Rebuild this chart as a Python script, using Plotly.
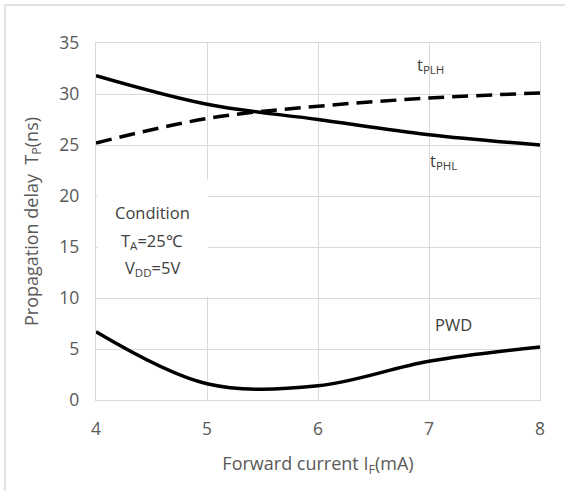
import plotly.graph_objects as go

# Data
forward_current = [4, 5, 6, 7, 8]
t_phl = [31.8, 29.0, 27.5, 26.0, 25.0]
t_plh = [25.2, 27.6, 28.8, 29.6, 30.1]
pwd = [6.7, 1.6, 1.4, 3.8, 5.2]

x_ticks = [4, 5, 6, 7, 8]
y_ticks = [0, 5, 10, 15, 20, 25, 30, 35]

FONT = "Open Sans"
GRID = "#d9d9d9"
TXT = "#595959"

fig = go.Figure()
fig.add_trace(go.Scatter(x=forward_current, y=t_phl, mode="lines", name="tPHL",
                         line=dict(color="black", width=3.5, shape="spline", smoothing=1)))
fig.add_trace(go.Scatter(x=forward_current, y=t_plh, mode="lines", name="tPLH",
                         line=dict(color="black", width=3.5, shape="spline", smoothing=1, dash="16px,8px")))
fig.add_trace(go.Scatter(x=forward_current, y=pwd, mode="lines", name="PWD",
                         line=dict(color="black", width=3.5, shape="spline", smoothing=1)))

W, H = 566, 492
L, R, T, B = 96, 26, 43, 92
pw, ph = W - L - R, H - T - B

def px_to_paper(px, py):
    return (px - L) / pw, (H - B - py) / ph

# outer chart border (left and top visible)
lx, ty = px_to_paper(5, 5)
_, by = px_to_paper(5, 491)
rx, _ = px_to_paper(565, 5)
fig.add_shape(type="line", xref="paper", yref="paper", x0=lx, x1=lx, y0=ty, y1=by,
              line=dict(color=GRID, width=1.5), layer="above")
fig.add_shape(type="line", xref="paper", yref="paper", x0=lx, x1=rx, y0=ty, y1=ty,
              line=dict(color=GRID, width=1.5), layer="above")

# condition box
fig.add_shape(type="rect", xref="x", yref="y", x0=4.012, x1=5.01, y0=10.1, y1=21.6,
              fillcolor="white", line=dict(width=0), layer="above")

ann_font = dict(family=FONT, size=16.5, color="#404040")
fig.add_annotation(x=4.505, y=18.4, text="Condition", showarrow=False, font=ann_font)
fig.add_annotation(x=4.505, y=15.6, text="T<sub>A</sub>=25℃", showarrow=False, font=ann_font)
fig.add_annotation(x=4.505, y=12.9, text="V<sub>DD</sub>=5V", showarrow=False, font=ann_font)

fig.add_annotation(x=6.87, y=32.8, text="t<sub>PLH</sub>", showarrow=False, xanchor="left", font=ann_font)
fig.add_annotation(x=6.99, y=23.4, text="t<sub>PHL</sub>", showarrow=False, xanchor="left", font=ann_font)
fig.add_annotation(x=7.04, y=7.4, text="PWD", showarrow=False, xanchor="left", font=ann_font)

fig.update_layout(
    width=W, height=H,
    margin=dict(l=L, r=R, t=T, b=B, autoexpand=False),
    paper_bgcolor="white", plot_bgcolor="white",
    showlegend=False,
    font=dict(family=FONT, size=17, color=TXT),
)
fig.update_xaxes(range=[4, 8], tickvals=x_ticks, ticktext=[str(v) for v in x_ticks],
                 showgrid=True, gridcolor=GRID, gridwidth=1.3,
                 showline=True, linecolor=GRID, linewidth=1.3, mirror=True,
                 zeroline=False, ticks="", ticklabelstandoff=13,
                 tickfont=dict(family=FONT, size=17.5, color=TXT),
                 title=dict(text="Forward current I<sub>F</sub>(mA)", standoff=18,
                            font=dict(family=FONT, size=18, color=TXT)))
fig.update_yaxes(range=[0, 35], tickvals=y_ticks, ticktext=[str(v) for v in y_ticks],
                 showgrid=True, gridcolor=GRID, gridwidth=1.3,
                 showline=True, linecolor=GRID, linewidth=1.3, mirror=True,
                 zeroline=False, ticks="", ticklabelstandoff=12,
                 tickfont=dict(family=FONT, size=17.5, color=TXT),
                 title=dict(text="Propagation delay  T<sub>P</sub>(ns)", standoff=16,
                            font=dict(family=FONT, size=18, color=TXT)))

fig.write_html("out.html", config={"displayModeBar": False},
               post_script="document.body.style.margin='0px';")
